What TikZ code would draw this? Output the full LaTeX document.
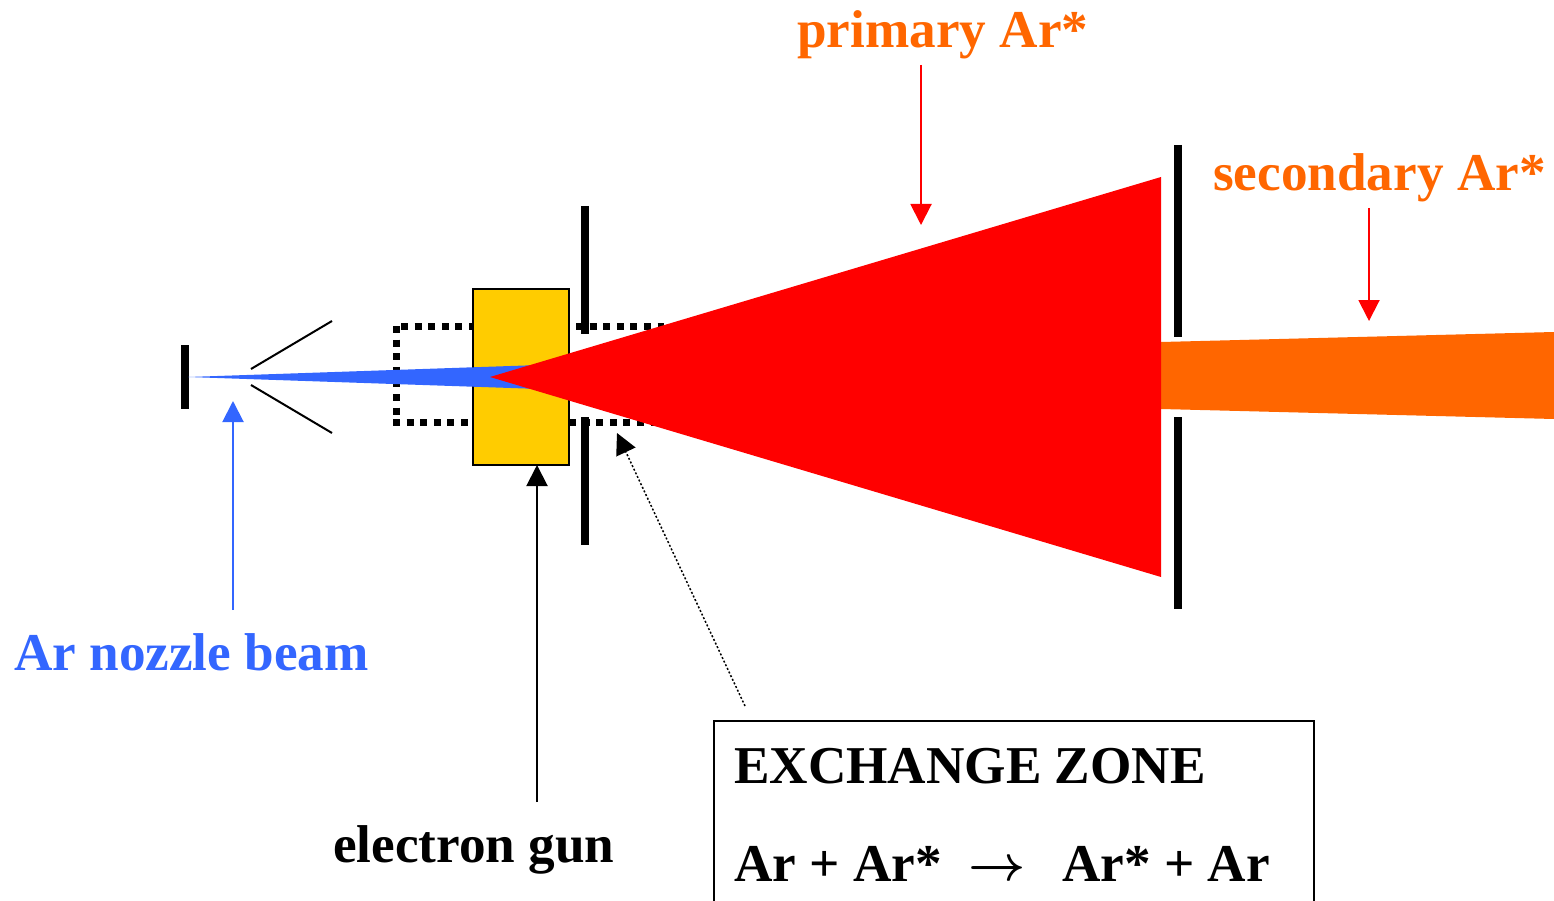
\documentclass[tikz,border=0pt]{standalone}
\usepackage{fontspec}
\setmainfont{Liberation Serif}
\usetikzlibrary{arrows.meta}
\definecolor{bluec}{RGB}{51,102,255}
\definecolor{orangec}{RGB}{255,102,0}
\definecolor{yellowc}{RGB}{255,204,0}
\tikzset{x=1pt,y=-1pt,
 lab/.style={inner sep=0pt,font=\bfseries\fontsize{53.2}{53.2}\selectfont,anchor=base west},
 wall/.style={line width=8pt,black},
 dots/.style={line width=7pt,black,dash pattern=on 7pt off 6.6pt},
 tip/.style={-{Triangle[length=21pt,width=21pt]},line width=2pt}
}
\begin{document}
\begin{tikzpicture}
\useasboundingbox (0,0) rectangle (1554,901);
% dotted zone
\coordinate (d1) at (401,326); \coordinate (d2) at (476,326);
\coordinate (d3) at (396.5,326); \coordinate (d4) at (396.5,426);
\coordinate (d5) at (393,422.5); \coordinate (d6) at (476,422.5);
\coordinate (d7) at (576,326); \coordinate (d8) at (664,326);
\coordinate (d9) at (555.4,422.5); \coordinate (d10) at (664,422.5);
\draw[dots] (d1) -- (d2);
\draw[dots] (d3) -- (d4);
\draw[dots] (d5) -- (d6);
\draw[dots] (d7) -- (d8);
\draw[dots] (d9) -- (d10);
% gun
\node[draw=black,line width=2.5pt,fill=yellowc,minimum width=96pt,minimum height=176pt,inner sep=0pt,outer sep=0pt] (gun) at (521,377) {};
% walls
\coordinate (a1) at (585.2,206); \coordinate (a2) at (585.2,334);
\coordinate (a3) at (585.2,417); \coordinate (a4) at (585.2,545);
\draw[wall] (a1) -- (a2); \draw[wall] (a3) -- (a4);
\coordinate (b1) at (1177.5,145); \coordinate (b2) at (1177.5,337);
\coordinate (b3) at (1177.5,417); \coordinate (b4) at (1177.5,609);
\draw[wall] (b1) -- (b2); \draw[wall] (b3) -- (b4);
\coordinate (n1) at (185.3,345); \coordinate (n2) at (185.3,409);
\draw[wall] (n1) -- (n2);
% skimmer
\coordinate (s1) at (251,369); \coordinate (s2) at (332,321);
\coordinate (s3) at (251,385); \coordinate (s4) at (332,433);
\draw[line width=2pt] (s1) -- (s2); \draw[line width=2pt] (s3) -- (s4);
% beams
\fill[orangec] (1161,342) -- (1554,332) -- (1554,419) -- (1161,409) -- cycle;
\fill[bluec] (188,377) -- (540,365) -- (540,389) -- cycle;
\fill[red] (490,377) -- (1161,177) -- (1161,577) -- cycle;
% labels
\node[lab,text=orangec] (prim) at (797,47.5) {primary Ar*};
\node[lab,text=orangec] (sec) at (1213,190.5) {secondary Ar*};
\node[lab,text=bluec] (noz) at (14,670.5) {Ar nozzle beam};
\node[lab] (eg) at (333,862.5) {electron gun};
\node[draw=black,line width=2pt,minimum width=600pt,minimum height=200pt,inner sep=0pt,outer sep=0pt,anchor=north west] (box) at (713.5,720.5) {};
\node[lab] (ez) at (734,783) {EXCHANGE ZONE};
\node[lab] (eq1) at (734,881) {Ar + Ar*};
\node[lab] (eq2) at (1062,881) {Ar* + Ar};
\node[lab] (eqa) at (968,880) {\scalebox{2.0}{\boldmath$\rightarrow$}};
% arrows
\coordinate (p0) at (921,65); \coordinate (p1) at (921,225);
\draw[tip,red] (p0) -- (p1);
\coordinate (q0) at (1369,208); \coordinate (q1) at (1369,321);
\draw[tip,red] (q0) -- (q1);
\coordinate (r0) at (233,610); \coordinate (r1) at (233,401);
\draw[tip,bluec] (r0) -- (r1);
\coordinate (g0) at (537,802); \coordinate (g1) at (537,465);
\draw[tip,black] (g0) -- (g1);
\coordinate (z0) at (745,706); \coordinate (z1) at (617,433);
\draw[black,line width=1.5pt,dash pattern=on 2pt off 2pt,-{Triangle[length=21pt,width=21pt,sep=0pt]}] (z0) -- (z1);
\end{tikzpicture}
\end{document}
